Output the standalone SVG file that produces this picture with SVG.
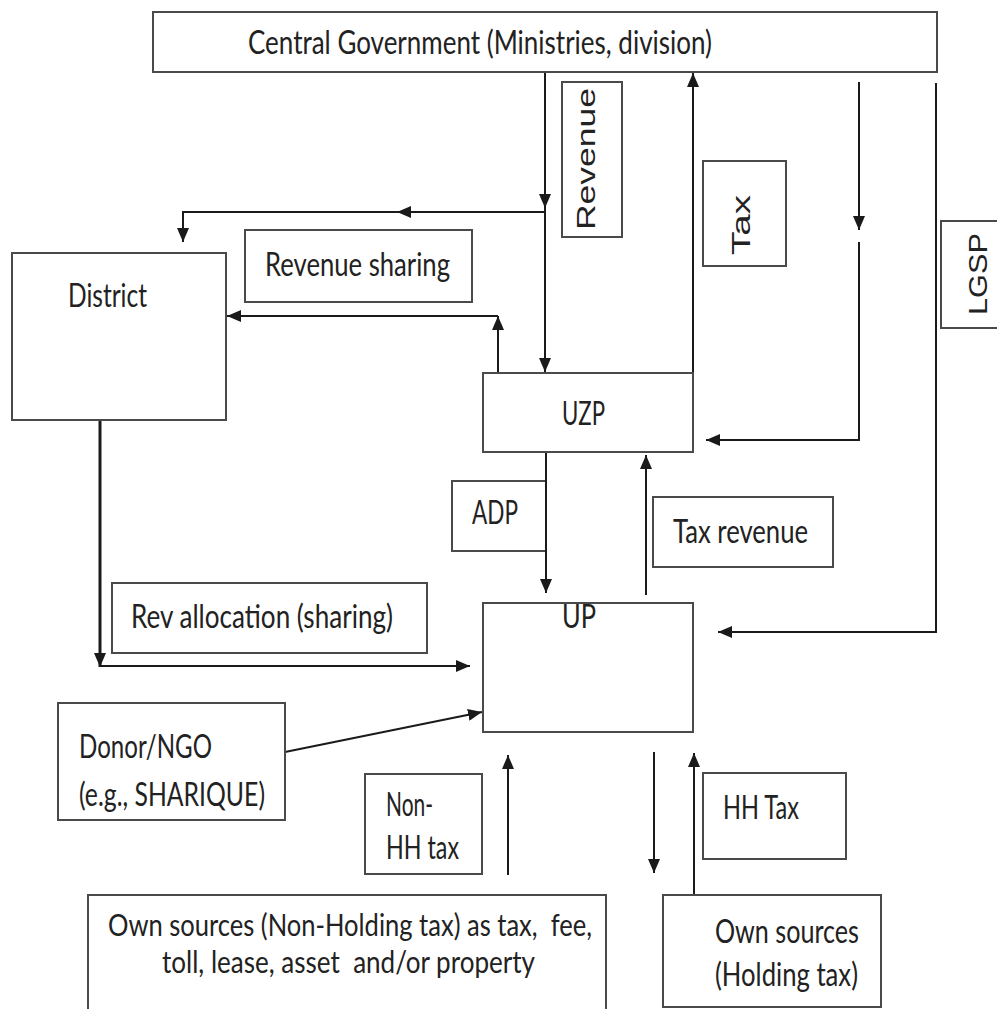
<svg xmlns="http://www.w3.org/2000/svg" width="997" height="1009" viewBox="0 0 997 1009">
<defs>
<marker id="ah" viewBox="0 0 14 12" refX="14" refY="6" markerWidth="14" markerHeight="12" markerUnits="userSpaceOnUse" orient="auto">
<path d="M0,0 L14,6 L0,12 Z" fill="#1a1a1a"/>
</marker>
<style>
.box{fill:#fff;stroke:#4a4a4a;stroke-width:2}
.ln{fill:none;stroke:#1a1a1a;stroke-width:2}
.thick{stroke-width:3}
.t{font-family:Lato,"Liberation Sans",sans-serif;font-size:33px;fill:#222;white-space:pre}
.s{font-size:30px}
.r{font-family:"Liberation Sans",Arial,sans-serif;font-size:35px;fill:#222;text-anchor:middle}
</style>
</defs>
<rect width="997" height="1009" fill="#fff"/>

<g id="connectors">
<path class="ln" d="M545,72 L545,208" marker-end="url(#ah)"/>
<path class="ln" d="M545,208 L545,372" marker-end="url(#ah)"/>
<path class="ln" d="M545,212 L397,212" marker-end="url(#ah)"/>
<path class="ln" d="M397,212 L183,212 L183,242" marker-end="url(#ah)"/>
<path class="ln" d="M693,373 L693,73" marker-end="url(#ah)"/>
<path class="ln" d="M859,82 L859,230" marker-end="url(#ah)"/>
<path class="ln" d="M859,242 L859,440 L706,440" marker-end="url(#ah)"/>
<path class="ln" d="M936,83 L936,632 L718,632" marker-end="url(#ah)"/>
<path class="ln" d="M498,373 L498,316" marker-end="url(#ah)"/>
<path class="ln" d="M498,316 L227,316" marker-end="url(#ah)"/>
<path class="ln" d="M546,452 L546,593" marker-end="url(#ah)"/>
<path class="ln" d="M646,595 L646,455" marker-end="url(#ah)"/>
<path class="ln thick" d="M100,420 L100,667" marker-end="url(#ah)"/>
<path class="ln" d="M100,666 L470,666" marker-end="url(#ah)"/>
<path class="ln" d="M285,752 L482,712" marker-end="url(#ah)"/>
<path class="ln" d="M508,875 L508,755" marker-end="url(#ah)"/>
<path class="ln" d="M654,752 L654,873" marker-end="url(#ah)"/>
<path class="ln" d="M694,895 L694,753" marker-end="url(#ah)"/>
</g>

<g id="central">
<rect class="box" x="153" y="12" width="784" height="60"/>
<text class="t" x="248" y="54" textLength="464" lengthAdjust="spacingAndGlyphs">Central Government (Ministries, division)</text>
</g>

<g id="label-revenue">
<rect class="box" x="562" y="82" width="60" height="155"/>
<text class="r" transform="translate(595,159) scale(0.75,1) rotate(-90)" textLength="142" lengthAdjust="spacingAndGlyphs">Revenue</text>
</g>

<g id="label-tax">
<rect class="box" x="703" y="161" width="83" height="105"/>
<text class="r" transform="translate(750,225) scale(0.75,1) rotate(-90)" textLength="60" lengthAdjust="spacingAndGlyphs">Tax</text>
</g>

<g id="label-lgsp">
<rect class="box" x="941" y="221" width="70" height="107"/>
<text class="r" transform="translate(987,274) scale(0.75,1) rotate(-90)" textLength="82" lengthAdjust="spacingAndGlyphs">LGSP</text>
</g>

<g id="district">
<rect class="box" x="12" y="253" width="214" height="167"/>
<text class="t" x="68" y="307" textLength="79" lengthAdjust="spacingAndGlyphs">District</text>
</g>

<g id="label-revenue-sharing">
<rect class="box" x="245" y="230" width="227" height="72"/>
<text class="t" x="265" y="276" textLength="185" lengthAdjust="spacingAndGlyphs">Revenue sharing</text>
</g>

<g id="uzp">
<rect class="box" x="483" y="373" width="210" height="79"/>
<text class="t" x="562" y="425" textLength="43" lengthAdjust="spacingAndGlyphs">UZP</text>
</g>

<g id="label-adp">
<path class="box" d="M545,481 L452,481 L452,551 L545,551"/>
<text class="t" x="472" y="524" textLength="46" lengthAdjust="spacingAndGlyphs">ADP</text>
</g>

<g id="label-tax-revenue">
<rect class="box" x="653" y="497" width="180" height="70"/>
<text class="t" x="673" y="543" textLength="135" lengthAdjust="spacingAndGlyphs">Tax revenue</text>
</g>

<g id="up">
<rect class="box" x="483" y="603" width="210" height="129"/>
<text class="t" x="562" y="628" textLength="34" lengthAdjust="spacingAndGlyphs">UP</text>
</g>

<g id="label-rev-allocation">
<rect class="box" x="112" y="583" width="315" height="70"/>
<text class="t" x="131" y="628" textLength="262" lengthAdjust="spacingAndGlyphs">Rev allocation (sharing)</text>
</g>

<g id="donor">
<rect class="box" x="58" y="703" width="227" height="117"/>
<text class="t" x="79" y="758" textLength="133" lengthAdjust="spacingAndGlyphs">Donor/NGO</text>
<text class="t" x="79" y="806" textLength="186" lengthAdjust="spacingAndGlyphs">(e.g., SHARIQUE)</text>
</g>

<g id="label-non-hh">
<rect class="box" x="365" y="774" width="117" height="100"/>
<text class="t" x="386" y="816" textLength="47" lengthAdjust="spacingAndGlyphs">Non-</text>
<text class="t" x="386" y="859" textLength="73" lengthAdjust="spacingAndGlyphs">HH tax</text>
</g>

<g id="label-hh-tax">
<rect class="box" x="703" y="773" width="143" height="86"/>
<text class="t" x="723" y="819" textLength="76" lengthAdjust="spacingAndGlyphs">HH Tax</text>
</g>

<g id="own-non-holding">
<rect class="box" x="88" y="895" width="518" height="130"/>
<text class="t s" x="108" y="936" textLength="484" lengthAdjust="spacingAndGlyphs">Own sources (Non-Holding tax) as tax,  fee,</text>
<text class="t s" x="162" y="973" textLength="373" lengthAdjust="spacingAndGlyphs">toll, lease, asset  and/or property</text>
</g>

<g id="own-holding">
<rect class="box" x="663" y="895" width="218" height="112"/>
<text class="t" x="715" y="943" textLength="144" lengthAdjust="spacingAndGlyphs">Own sources</text>
<text class="t" x="715" y="986" textLength="143" lengthAdjust="spacingAndGlyphs">(Holding tax)</text>
</g>
</svg>
